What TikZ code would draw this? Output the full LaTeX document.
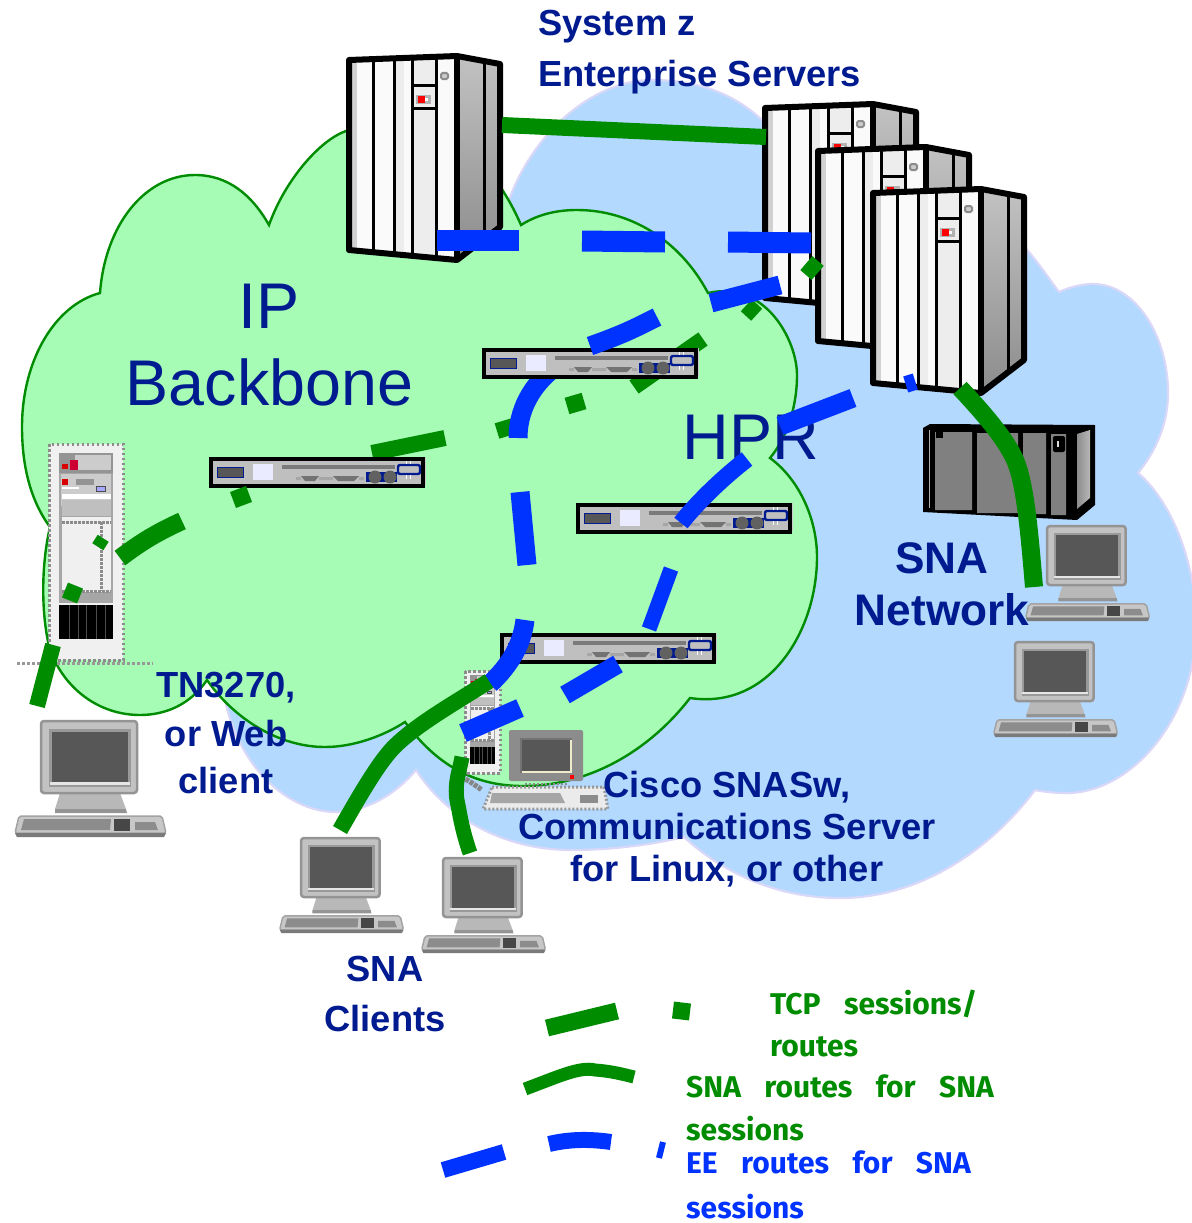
\documentclass[tikz,border=0pt]{standalone}
\usepackage{fontspec}
\setmainfont{Liberation Sans}
\newfontfamily\legendfont[WordSpace=3.3]{Fira Sans}
\usetikzlibrary{calc}
\definecolor{navy}{HTML}{001A8F}
\definecolor{tcpgreen}{HTML}{008C00}
\definecolor{eeblue}{HTML}{0033FF}
\definecolor{cloudgreen}{HTML}{A6FBB5}
\definecolor{cloudblue}{HTML}{B3D9FF}
\definecolor{cloudedge}{HTML}{DAD8F8}
\tikzset{
  x=1pt,y=-1pt,
  label/.style={font=\fontsize{36.3}{36}\selectfont\bfseries,text=navy,inner sep=0,anchor=base},
  big/.style={font=\fontsize{64.6}{64}\selectfont,text=navy,inner sep=0,anchor=base},
  leg/.style={font=\fontsize{30}{30}\selectfont\legendfont\bfseries,inner sep=0,anchor=base west},
  tcpline/.style={draw=tcpgreen,line width=16pt},
  snaline/.style={draw=tcpgreen,line width=16pt},
  eeline/.style={draw=eeblue,line width=19pt},
  server/.pic={
    \fill[white!98!black] (0,0)--(108,-4)--(108,200)--(0,190)--cycle;
    \fill[black!18] (2,1)--(8,1)--(8,188)--(2,188)--cycle;
    \fill[black!7] (45,-1)--(55,-1)--(55,194)--(45,194)--cycle;
    \fill[black!7] (63,-2)--(87,-2)--(87,196)--(63,196)--cycle;
    \shade[top color=black!24,bottom color=black!45] (108,-4)--(151,4)--(151,167)--(108,200)--cycle;
    \draw[line width=3pt] (24,-1)--(24,192) (45,-2)--(45,194) (63,-2)--(63,196) (87,-3)--(87,198);
    \draw[line width=3pt] (63,25)--(87,25) (63,48)--(87,48);
    \draw[line width=3pt] (135,2)--(135,178);
    \fill[black!30] (67,35) rectangle (82,44);
    \fill[red] (69,36) rectangle (76,43);
    \fill[white] (76,38) rectangle (79,41);
    \draw[black!45,fill=black!20,line width=2pt,rounded corners=1.5pt] (92,13) rectangle (99,19);
    \draw[line width=6pt,line join=round] (0,0)--(108,-4)--(151,4)--(151,167)--(108,200)--(0,190)--cycle;
    \draw[line width=6pt] (108,-4)--(108,200);
  },
  computer/.pic={
    \fill[black!28] (19,72)--(79,72)--(85,88)--(14,88)--cycle;
    \fill[black!42] (14,88)--(85,88)--(86,92)--(14,92)--cycle;
    \fill[black!38] (27,72) arc[start angle=180,end angle=360,x radius=22,y radius=9];
    \draw[black!42,fill=black!24,line width=2.5pt,rounded corners=3pt] (0,0) rectangle (96,72);
    \fill[black!40] (8,8) rectangle (90,66);
    \fill[black!66] (11,11) rectangle (87,61);
    \fill[black!10] (9,61) rectangle (89,64);
    \draw[black!36,fill=black!22,line width=1.5pt,rounded corners=2pt,line join=round] (-22,95)--(121,95)--(125,112)--(-26,112)--cycle;
    \fill[black!45] (-17,98)--(70,98)--(69,109)--(-20,109)--cycle;
    \fill[black!72] (73,98) rectangle (89,110);
    \fill[black!45] (94,101)--(114,101)--(117,109)--(94,109)--cycle;
    \fill[black!52] (-26,112) -- (125,112) -- (123,116) -- (-24,116) -- cycle;
  },
  rack/.pic={
    \draw[black!45,fill=black!6,line width=3pt,dash pattern=on 2.5pt off 2.5pt] (0,0) rectangle (74,216);
    \fill[black!35] (10,9) rectangle (64,159);
    \fill[black!42] (10,9)--(64,9)--(64,29)--(10,29)--cycle;
    \fill[black!20] (26,11) rectangle (62,26);
    \fill[red!85!black] (13,20) rectangle (19,25);
    \fill[red!80!blue] (21,16) rectangle (29,26);
    \fill[white!80!black] (12,30) rectangle (62,62);
    \fill[red!85!black] (13,35) rectangle (19,41);
    \fill[black!42] (27,35) rectangle (45,41);
    \fill[white] (13,43) rectangle (30,45);
    \draw[black!70,fill=blue!35] (47,42) rectangle (56,47);
    \fill[white] (13,50) rectangle (62,55);
    \fill[black!25] (13,56) rectangle (62,72);
    \fill[black!6] (13,73) rectangle (62,148);
    \draw[black!45,line width=3pt,dash pattern=on 2.5pt off 1.5pt] (13,78)--(62,78) (52,78)--(52,147) (13,147)--(62,147);
    \fill (10,161) rectangle (64,195);
    \draw[black!70,line width=.4pt] (20,161)--(20,195) (29,161)--(29,195) (37,161)--(37,195) (47,161)--(47,195) (56,161)--(56,195);
  },
  router/.pic={
    \fill[black!20] (1,-2) rectangle (215,26);
    \draw[line width=3.2pt,fill=black!25] (0,0) rectangle (212,27);
    \draw[navy,fill=black!66,line width=1pt] (6.5,8) rectangle (32,18);
    \fill[white!92!blue] (42,5) rectangle (62,21);
    \fill[black!52] (71,6) rectangle (184,9.5);
    \fill[black!55] (90,17) -- (108,17) -- (104,22) -- (94,22) -- cycle;
    \fill[black!55] (122,17) -- (148,17) -- (143,22) -- (127,22) -- cycle;
    \fill[black!35] (85,18) rectangle (90,21) (108,18) rectangle (122,21) (148,18) rectangle (153,21);
    \fill[navy] (155,13) rectangle (186,23);
    \fill[black!62] (164,18) circle[radius=6.5] (179,18) circle[radius=6.5];
    \draw[navy,line width=2.4pt,rounded corners=2pt] (187,6) rectangle (209,15);
    \draw[white,line width=.8pt] (195,2)--(195,5) (199,2)--(199,5) (195,16)--(195,20) (199,16)--(199,20);
  },
}
\begin{document}
\begin{tikzpicture}
\useasboundingbox (0,0) rectangle (1191,1223);
% clouds
\path[fill=cloudblue,draw=cloudedge,line width=2.2pt]
 (500,230) .. controls (520,140) and (590,80) .. (652,80)
 .. controls (700,80) and (735,95) .. (762,120)
 .. controls (830,120) and (960,170) .. (1028,251)
 .. controls (1040,265) and (1050,280) .. (1059,292)
 .. controls (1070,287) and (1082,284) .. (1093,284)
 .. controls (1135,284) and (1168,335) .. (1168,393)
 .. controls (1168,425) and (1155,452) .. (1138,473)
 .. controls (1170,500) and (1196,560) .. (1196,625)
 .. controls (1196,720) and (1130,793) .. (1067,793)
 .. controls (1055,793) and (1045,792) .. (1035,790)
 .. controls (990,850) and (920,898) .. (840,898)
 .. controls (780,898) and (725,875) .. (684,837)
 .. controls (650,845) and (610,850) .. (572,850)
 .. controls (500,850) and (445,815) .. (416,770)
 .. controls (395,795) and (365,812) .. (336,812)
 .. controls (290,812) and (240,770) .. (225,700) -- cycle;
\path[fill=cloudgreen,draw=tcpgreen,line width=2.4pt,line join=miter]
 (100,293) .. controls (105,225) and (145,175) .. (195,175)
 .. controls (228,175) and (252,195) .. (269,225)
 .. controls (285,180) and (320,140) .. (346,131)
 .. controls (400,100) and (480,130) .. (521,225)
 .. controls (540,213) and (560,210) .. (577,210)
 .. controls (630,210) and (680,240) .. (708,293)
 .. controls (765,280) and (797,340) .. (797,375)
 .. controls (797,410) and (785,440) .. (770,458)
 .. controls (800,480) and (817,520) .. (817,557)
 .. controls (817,630) and (770,710) .. (690,698)
 .. controls (650,750) and (590,786) .. (523,786)
 .. controls (480,786) and (440,770) .. (405,722)
 .. controls (385,735) and (355,747) .. (325,747)
 .. controls (280,747) and (235,720) .. (207,680)
 .. controls (190,705) and (165,715) .. (140,715)
 .. controls (100,715) and (65,690) .. (50,650)
 .. controls (42,620) and (40,570) .. (50,527)
 .. controls (30,500) and (22,465) .. (22,427)
 .. controls (22,360) and (55,305) .. (100,293) -- cycle;
% cloud labels
\node[big] (ip) at (269.5,328) {IP};
\node[big] (backbone) at (269.5,405) {Backbone};
\node[big] (hpr) at (751,459) {HPR};
% black SNA box
\fill[line join=round] (923,428)--(930,424)--(1095,425)--(1095,505)--(1077,520)--(923,512)--cycle;
\fill[black!50] (935,432) rectangle (972,510) (977,433) rectangle (1018,513) (1023,433) rectangle (1046,514) (1051,434) rectangle (1066,515);
\shade[left color=black!45,right color=black!28] (1077,434)--(1090,430)--(1090,498)--(1077,509)--cycle;
\draw[white!70!black,line width=1pt] (929,430)--(929,508);
\fill (936,431) rectangle (943,438);
\fill[rounded corners=2pt] (1053,436) rectangle (1065,452);
\fill[white!85!black] (1057,441) rectangle (1059,447);
% servers
\pic (srvA) at (349,60) {server};
\pic (srvB) at (765,108) {server};
\pic (srvC) at (818,151) {server};
\pic (srvD) at (873,193) {server};
\coordinate (t9a) at (806,275); \coordinate (t9b) at (818,261);
\draw[tcpline,line width=15pt] (t9a)--(t9b);
% dashes under routers
\coordinate (t5a) at (497,431); \coordinate (t5b) at (520,424); \draw[tcpline] (t5a)--(t5b);
\coordinate (t7a) at (634,387); \coordinate (t7b) at (703,339); \draw[tcpline] (t7a)--(t7b);
\coordinate (t4a) at (372,453); \coordinate (t4b) at (445,438); \draw[tcpline] (t4a)--(t4b);
\coordinate (e6a) at (558,365); \coordinate (e6b) at (518,438); \draw[eeline] (e6a) .. controls (530,385) and (518,412) .. (e6b);
% routers
\pic (rtA) at (211,459) {router};
\pic (rtB) at (484,350) {router};
\pic (rtC) at (578,505) {router};
\pic (rtD) at (502,635) {router};
% racks and the server on the floor
\draw[black!40,line width=3pt,dash pattern=on 3pt off 2pt] (17,663)--(153,663);
\pic (rackA) at (49,444) {rack};
\pic[scale=.475] (rackB) at (465,671) {rack};
\draw[black!48,line width=5pt,dash pattern=on 4pt off 1pt] (451,777)--(462,777)--(472,783)--(482,790);
\draw[black!40,fill=white!92!black,line width=3pt,dash pattern=on 2pt off 2pt] (492,787)--(604,787)--(608,809)--(483,809)--cycle;
\fill[black!35] (492,793)--(560,793)--(565,803)--(490,803)--cycle;
\fill[black!45] (580,795) rectangle (598,803);
\fill[black!45,rounded corners=2pt] (509,730) rectangle (583,781);
\fill[black!55] (520,738) rectangle (572,773);
\fill[white!85!olive] (522,740) rectangle (572,773);
\fill[black!66] (522,740) rectangle (570,771);
\fill[red] (570,775) rectangle (574,779);
\draw[black!45,line width=2.5pt,dash pattern=on 2pt off 2pt] (525,784)--(568,784);
% computers
\pic (pcA) at (41,721) {computer};
\pic[scale=.82] (pcB) at (301,838) {computer};
\pic[scale=.82] (pcC) at (443,858) {computer};
\pic[scale=.82] (pcD) at (1047,526) {computer};
\pic[scale=.82] (pcE) at (1015,642) {computer};
% TCP dashes
\coordinate (t1a) at (37,706); \coordinate (t1b) at (53,645); \draw[tcpline] (t1a)--(t1b);
\coordinate (t2a) at (65,590); \coordinate (t2b) at (80,596); \draw[tcpline] (t2a)--(t2b);
\coordinate (t2c) at (95,539); \coordinate (t2d) at (106,546); \draw[tcpline,line width=10pt] (t2c)--(t2d);
\coordinate (t3a) at (120,558); \coordinate (t3b) at (182,521); \draw[tcpline,line width=18pt] (t3a) to[bend left=6] (t3b);
\coordinate (t3c) at (233,500); \coordinate (t3d) at (249,494); \draw[tcpline,line width=17pt] (t3c)--(t3d);
\coordinate (t6a) at (567,406); \coordinate (t6b) at (584,401); \draw[tcpline,line width=17pt] (t6a)--(t6b);
\coordinate (t8a) at (746,316); \coordinate (t8b) at (757,304); \draw[tcpline,line width=14pt] (t8a)--(t8b);
% EE dashes
\coordinate (e1a) at (437,240); \coordinate (e1b) at (519,240); \draw[eeline,line width=21pt] (e1a)--(e1b);
\coordinate (e2a) at (582,241); \coordinate (e2b) at (665,242); \draw[eeline,line width=21pt] (e2a)--(e2b);
\coordinate (e3a) at (728,242); \coordinate (e3b) at (811,243); \draw[eeline,line width=21pt] (e3a)--(e3b);
\coordinate (e4a) at (780,285); \coordinate (e4b) at (711,303); \draw[eeline] (e4a)--(e4b);
\coordinate (e5a) at (657,317); \coordinate (e5b) at (590,346); \draw[eeline] (e5a) to[bend left=4] (e5b);
\coordinate (e7a) at (520,492); \coordinate (e7b) at (527,565); \draw[eeline] (e7a)--(e7b);
\coordinate (e8a) at (525,620); \coordinate (e8b) at (490,684); \draw[eeline] (e8a) .. controls (522,645) and (510,665) .. (e8b);
\coordinate (e9a) at (853,398); \coordinate (e9b) at (780,426); \draw[eeline] (e9a)--(e9b);
\coordinate (e10a) at (747,459); \coordinate (e10b) at (681,523); \draw[eeline,line width=17pt] (e10a) .. controls (720,480) and (695,505) .. (e10b);
\coordinate (e11a) at (671,569); \coordinate (e11b) at (649,629); \draw[eeline,line width=15pt] (e11a)--(e11b);
\coordinate (e12a) at (618,664); \coordinate (e12b) at (565,695); \draw[eeline] (e12a)--(e12b);
\coordinate (e13a) at (520,708); \coordinate (e13b) at (463,733); \draw[eeline] (e13a)--(e13b);
\coordinate (e14a) at (908,375); \coordinate (e14b) at (913,391); \draw[eeline,line width=10pt] (e14a)--(e14b);
% SNA routes
\coordinate (s1a) at (502,125); \coordinate (s1b) at (766,137);
\draw[snaline] (s1a) -- (s1b);
\coordinate (s2a) at (960,388); \coordinate (s2b) at (1034,587);
\draw[snaline,line width=18pt] (s2a) .. controls (990,420) and (1010,445) .. (1017,465) .. controls (1026,490) and (1030,540) .. (s2b);
\coordinate (s3a) at (340,830); \coordinate (s3b) at (489,681);
\draw[snaline] (s3a) .. controls (360,795) and (380,760) .. (396,745) .. controls (420,722) and (460,700) .. (s3b);
\coordinate (s4a) at (470,853); \coordinate (s4b) at (462,757);
\draw[snaline,line width=15pt] (s4a) .. controls (462,830) and (460,815) .. (458,805) .. controls (453,785) and (460,770) .. (s4b);
% labels
\node[label,anchor=base west] (sysz) at (538,36) {System z};
\node[label,anchor=base west] (ent) at (538,86) {Enterprise Servers};
\node[label,font=\fontsize{44.2}{44}\selectfont\bfseries] (sna1) at (942,573) {SNA};
\node[label,font=\fontsize{44.2}{44}\selectfont\bfseries] (sna2) at (942,625) {Network};
\node[label] (tn1) at (226,697) {TN3270,};
\node[label] (tn2) at (226,746) {or Web};
\node[label] (tn3) at (226,793) {client};
\node[label] (cs1) at (727,797) {Cisco SNASw,};
\node[label] (cs2) at (727,839) {Communications Server};
\node[label] (cs3) at (727,881) {for Linux, or other};
\node[label] (cl1) at (385,981) {SNA};
\node[label] (cl2) at (385,1031) {Clients};
% legend
\coordinate (la) at (547,1028); \coordinate (lb) at (617,1011);
\draw[tcpline,line width=17pt] (la)--(lb);
\coordinate (lc) at (673,1010); \coordinate (ld) at (690,1012);
\draw[tcpline,line width=17pt] (lc)--(ld);
\coordinate (le) at (525,1089); \coordinate (lf) at (634,1077);
\draw[snaline,line width=13pt] (le) .. controls (555,1078) and (580,1066) .. (595,1070) .. controls (610,1071) and (622,1074) .. (lf);
\coordinate (lg) at (443,1170); \coordinate (lh) at (504,1152);
\draw[eeline,line width=16pt] (lg)--(lh);
\coordinate (li) at (549,1144); \coordinate (lj) at (611,1142);
\draw[eeline,line width=16pt] (li) .. controls (570,1139) and (590,1139) .. (lj);
\coordinate (lk) at (663,1142); \coordinate (ll) at (659,1158);
\draw[eeline,line width=6pt] (lk)--(ll);
\node[leg,text=tcpgreen] (l1) at (770,1014) {TCP sessions/};
\node[leg,text=tcpgreen] (l2) at (770,1056) {routes};
\node[leg,text=tcpgreen] (l3) at (686,1097) {SNA routes for SNA};
\node[leg,text=tcpgreen] (l4) at (686,1140) {sessions};
\node[leg,text=eeblue] (l5) at (686,1173) {EE routes for SNA};
\node[leg,text=eeblue] (l6) at (686,1218) {sessions};
\end{tikzpicture}
\end{document}
